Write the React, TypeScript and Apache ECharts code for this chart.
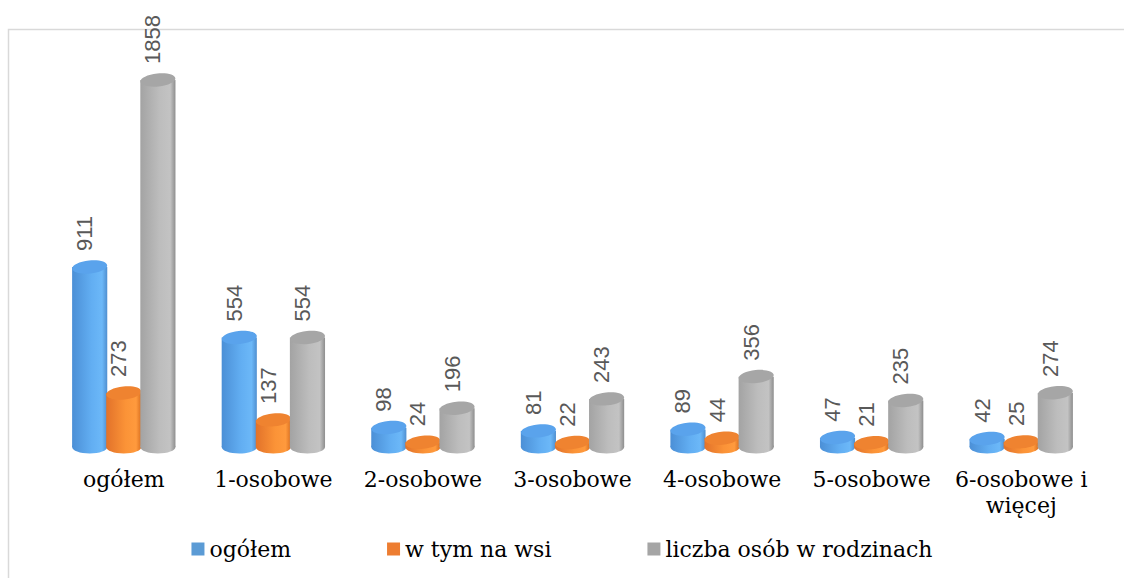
import React, { useEffect, useRef } from "react";
import * as echarts from "echarts";

const categories = ["ogółem", "1-osobowe", "2-osobowe", "3-osobowe", "4-osobowe", "5-osobowe", "6-osobowe i więcej"];
const seriesNames = ["ogółem", "w tym na wsi", "liczba osób w rodzinach"];
const ogolem = [911, 554, 98, 81, 89, 47, 42];
const naWsi = [273, 137, 24, 22, 44, 21, 25];
const liczbaOsob = [1858, 554, 196, 243, 356, 235, 274];

const legendColors = ["#5b9bd5", "#ed7d31", "#a5a5a5"];
const bodyStops = [
  ["#4b8fd6", "#62aef2", "#6cb8f8", "#4f8fd0"],
  ["#e2722a", "#fb9337", "#ff9a3d", "#d96e1f"],
  ["#a3a3a3", "#bdbdbd", "#c3c3c3", "#8e8e8e"],
];
const topColors = ["#5aa3ec", "#ef8330", "#a6a6a6"];

export default function App() {
  const ref = useRef<HTMLDivElement>(null);
  useEffect(() => {
    if (!ref.current) return;
    const chart = echarts.init(ref.current, null, { renderer: "svg" });
    const allValues = [ogolem, naWsi, liczbaOsob];
    const makeSeries = (idx: number) => ({
      type: "custom",
      name: seriesNames[idx],
      itemStyle: { color: legendColors[idx] },
      data: allValues[idx].map((v, i) => [i, v]),
      encode: { x: 0, y: 1 },
      clip: false,
      renderItem: (params: any, api: any) => {
        const cat = api.value(0);
        const val = api.value(1);
        const top = api.coord([cat, val]);
        const base = api.coord([cat, 0]);
        const band = api.size([1, 0])[0];
        const w = band * 0.235;
        const off = (idx - 1) * band * 0.228;
        const cx = top[0] + off;
        const ry = 6.5;
        const s = bodyStops[idx];
        const grad = new echarts.graphic.LinearGradient(0, 0, 1, 0, [
          { offset: 0, color: s[0] },
          { offset: 0.55, color: s[1] },
          { offset: 0.85, color: s[2] },
          { offset: 1, color: s[3] },
        ]);
        return {
          type: "group",
          children: [
            {
              type: "ellipse",
              shape: { cx, cy: base[1], rx: w / 2, ry },
              style: { fill: grad },
            },
            {
              type: "rect",
              shape: { x: cx - w / 2, y: top[1], width: w, height: base[1] - top[1] },
              style: { fill: grad },
            },
            {
              type: "ellipse",
              shape: { cx, cy: top[1], rx: w / 2, ry },
              rotation: 0.1,
              originX: cx,
              originY: top[1],
              style: { fill: topColors[idx] },
            },
            {
              type: "text",
              x: cx - 5,
              y: top[1] - 16,
              rotation: Math.PI / 2,
              style: {
                text: String(val),
                align: "left",
                verticalAlign: "middle",
                fontFamily: "Liberation Sans",
                fontSize: 22,
                fill: "#595959",
              },
            },
          ],
        };
      },
    });
    chart.setOption({
      animation: false,
      backgroundColor: "#ffffff",
      graphic: [
        {
          type: "rect",
          x: 8.5,
          y: 29.5,
          shape: { width: 1300, height: 800 },
          style: { fill: "none", stroke: "#d9d9d9", lineWidth: 1.5 },
          z: -10,
        },
      ],
      grid: { left: 49, right: 28, top: 52, bottom: 131 },
      xAxis: {
        type: "category",
        data: categories,
        axisLine: { show: false },
        axisTick: { show: false },
        axisLabel: {
          interval: 0,
          margin: 19,
          fontFamily: "DejaVu Serif",
          fontSize: 22,
          lineHeight: 26,
          color: "#000000",
          formatter: (v: string) => v.replace(" i ", " i\n"),
        },
      },
      yAxis: { type: "value", min: 0, max: 2000, show: false, splitLine: { show: false } },
      legend: {
        data: seriesNames,
        left: "center",
        top: 532,
        icon: "rect",
        itemWidth: 13,
        itemHeight: 13,
        itemGap: 96,
        textStyle: { fontFamily: "DejaVu Serif", fontSize: 22, lineHeight: 24, color: "#000000" },
      },
      series: [makeSeries(0), makeSeries(1), makeSeries(2)],
    });
    return () => chart.dispose();
  }, []);
  return (
    <div
      ref={ref}
      style={{ position: "fixed", left: 0, top: 0, width: 1124, height: 578, background: "#fff" }}
    />
  );
}
